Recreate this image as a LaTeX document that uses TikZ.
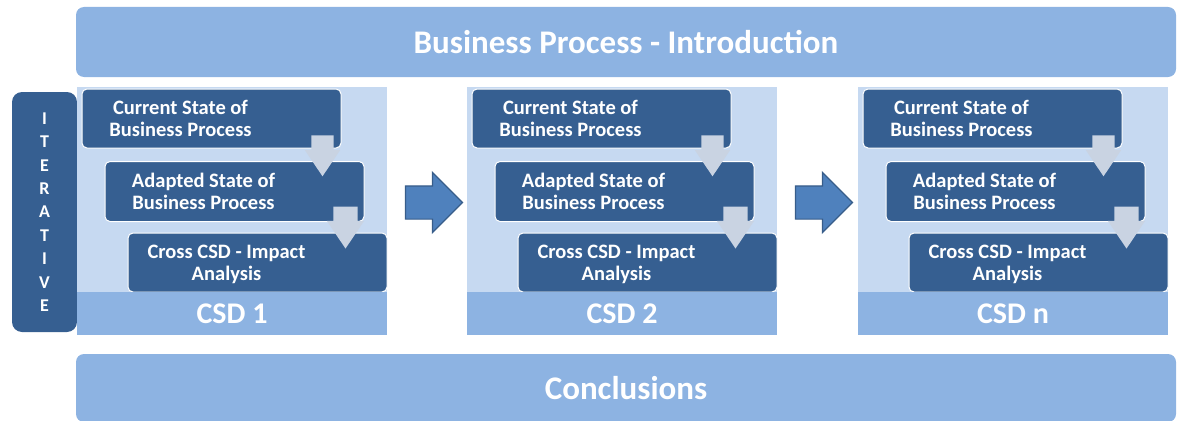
\documentclass[tikz,border=0pt]{standalone}
\usepackage{fontspec}
\setmainfont{Carlito}
\usetikzlibrary{calc,positioning,shapes.arrows}
\definecolor{boxblue}{RGB}{54,95,145}
\definecolor{colblue}{RGB}{198,217,241}
\definecolor{barblue}{RGB}{141,179,226}
\definecolor{arrblue}{RGB}{79,129,189}
\definecolor{arredge}{RGB}{56,93,138}
\definecolor{stepgray}{RGB}{201,211,226}
\tikzset{bar/.style={fill=barblue,rounded corners=8pt,minimum width=1100pt,text=white,
font=\bfseries\fontsize{33}{38}\selectfont},sbox/.style={draw=white,line width=1pt,
fill=boxblue,rounded corners=5pt,minimum width=259pt,minimum height=59pt},
stext/.style={text=white,align=center,font=\bfseries\fontsize{20.5}{22}\selectfont},
colbg/.style={fill=colblue,minimum width=310pt,minimum height=248pt,inner sep=0pt},
band/.style={fill=barblue,minimum width=310pt,minimum height=43pt,inner sep=0pt,
text=white,font=\bfseries\fontsize{30}{34}\selectfont},
dn/.style={single arrow,fill=stepgray,rotate=-90,inner sep=0pt,single arrow head
extend=6.5pt,single arrow tip angle=68},rt/.style={single arrow,draw=arredge,line
width=1.2pt,fill=arrblue,inner sep=0pt,minimum height=57pt,single arrow head extend=13.5pt}}
\begin{document}
\begin{tikzpicture}[x=1pt,y=-1pt]
		\useasboundingbox (0,0) rectangle (1177,420);
		\node[bar,minimum height=70pt] (intro) at (626,42) {Business Process - Introduction};
		\node[bar,minimum height=68pt] (concl) at (626,388) {Conclusions};
		\node[fill=boxblue,rounded corners=10pt,minimum width=65pt,minimum height=240pt,
			text=white,align=center,font=\bfseries\fontsize{18}{23.4}\selectfont] (iter) at (44.5,212)
			{I\\T\\E\\R\\A\\T\\I\\V\\E};
		% CSD 1
		\node[colbg] (bg1) at (232,211) {};
		\node[sbox,label={[stext,xshift=-31pt]center:Current State of\\Business Process}] (cur1) at (211.5,118.5) {};
		\node[sbox,minimum height=60pt,label={[stext,xshift=-31pt]center:Adapted State of\\Business Process}] (ada1) at (234.5,191.5) {};
		\node[sbox,label={[stext,xshift=-31pt,yshift=-2pt]center:Cross CSD - Impact\\Analysis}] (cro1) at (257.5,262.5) {};
		\node[band] (csd1) at (232,313.5) {CSD 1};
		\node[dn,minimum height=41pt] (d11) at ($(cur1.south east)+(-19,-1)$) {\rule{0pt}{22pt}};
		\node[dn,minimum height=42pt] (d12) at ($(ada1.south east)+(-19,-3.5)$) {\rule{0pt}{24pt}};
		% CSD 2
		\node[colbg] (bg2) at (622,211) {};
		\node[sbox,label={[stext,xshift=-31pt]center:Current State of\\Business Process}] (cur2) at (601.5,118.5) {};
		\node[sbox,minimum height=60pt,label={[stext,xshift=-31pt]center:Adapted State of\\Business Process}] (ada2) at (624.5,191.5) {};
		\node[sbox,label={[stext,xshift=-31pt,yshift=-2pt]center:Cross CSD - Impact\\Analysis}] (cro2) at (647.5,262.5) {};
		\node[band] (csd2) at (622,313.5) {CSD 2};
		\node[dn,minimum height=41pt] (d21) at ($(cur2.south east)+(-19,-1)$) {\rule{0pt}{22pt}};
		\node[dn,minimum height=42pt] (d22) at ($(ada2.south east)+(-19,-3.5)$) {\rule{0pt}{24pt}};
		% CSD n
		\node[colbg] (bg3) at (1013,211) {};
		\node[sbox,label={[stext,xshift=-31pt]center:Current State of\\Business Process}] (cur3) at (992.5,118.5) {};
		\node[sbox,minimum height=60pt,label={[stext,xshift=-31pt]center:Adapted State of\\Business Process}] (ada3) at (1015.5,191.5) {};
		\node[sbox,label={[stext,xshift=-31pt,yshift=-2pt]center:Cross CSD - Impact\\Analysis}] (cro3) at (1038.5,262.5) {};
		\node[band] (csd3) at (1013,313.5) {CSD n};
		\node[dn,minimum height=41pt] (d31) at ($(cur3.south east)+(-19,-1)$) {\rule{0pt}{22pt}};
		\node[dn,minimum height=42pt] (d32) at ($(ada3.south east)+(-19,-3.5)$) {\rule{0pt}{24pt}};
		% between the columns
		\node[rt] (r12) at ($(bg1.east)+(38.5,-8.5)$) {\rule{0pt}{32pt}};
		\node[rt] (r23) at ($(bg2.east)+(38.5,-8.5)$) {\rule{0pt}{32pt}};
	\end{tikzpicture}
\end{document}
